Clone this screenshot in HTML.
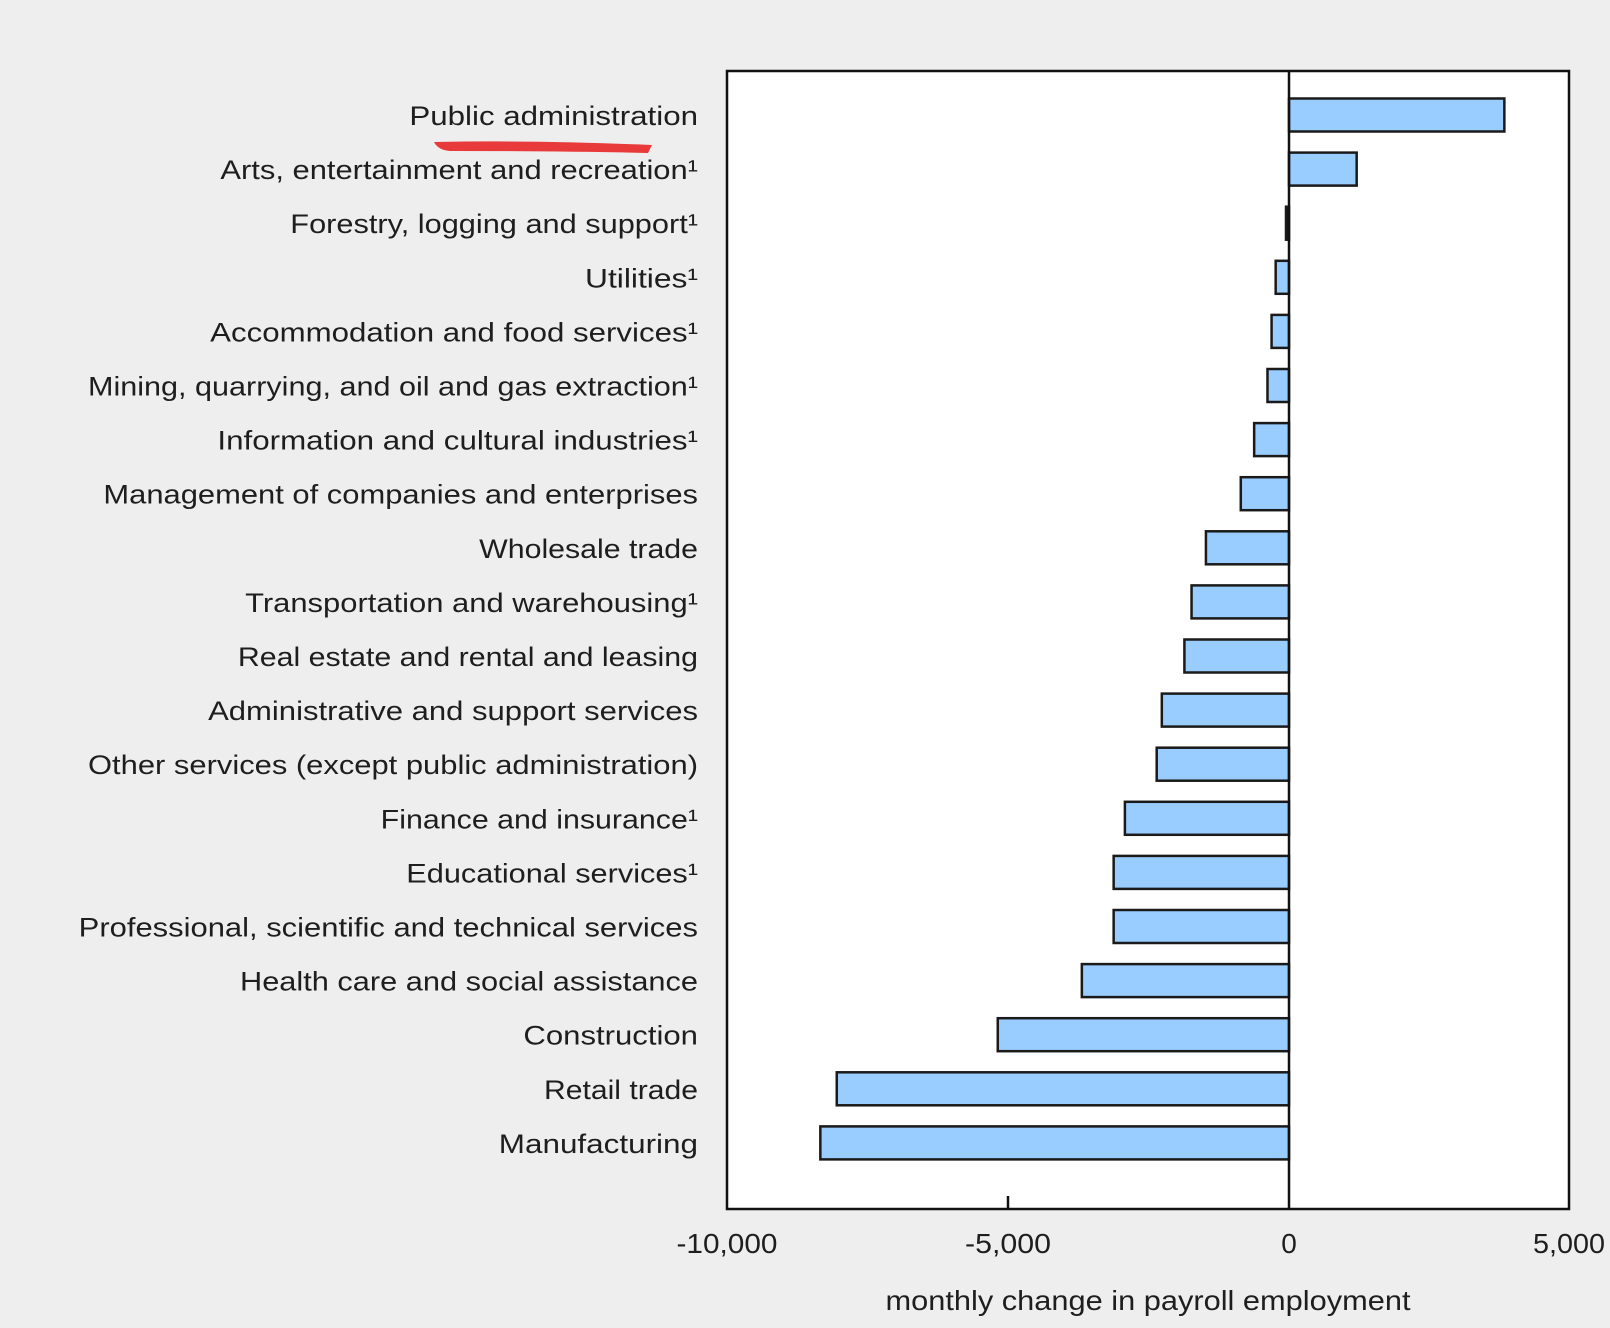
<!DOCTYPE html>
<html><head><meta charset="utf-8"><style>html,body{margin:0;padding:0;background:#eeeeee}svg{display:block}</style></head>
<body>
<svg width="1610" height="1328" viewBox="0 0 1610 1328" xmlns="http://www.w3.org/2000/svg" font-family="Liberation Sans, sans-serif" fill="#1e1e1e">
<rect x="0" y="0" width="1610" height="1328" fill="#eeeeee"/>
<rect x="727" y="71" width="842" height="1138" fill="#fff" stroke="#111" stroke-width="2.5"/>
<g id="bars" fill="#99ccff" stroke="#1a1a1a" stroke-width="2.5"></g>
<line x1="1289" y1="71" x2="1289" y2="1209" stroke="#111" stroke-width="2.5"/>
<line x1="1008" y1="1196" x2="1008" y2="1209" stroke="#111" stroke-width="2.5"/>
<g id="labels" font-size="27" text-anchor="end"></g>
<path d="M434 142 Q540 140 652 145 L648 153 Q560 151 450 151 Q438 150 434 142 Z" fill="#e83a3a"/>
<g font-size="28" text-anchor="middle">
<text x="727" y="1253" textLength="101" lengthAdjust="spacingAndGlyphs">-10,000</text>
<text x="1008" y="1253" textLength="86" lengthAdjust="spacingAndGlyphs">-5,000</text>
<text x="1289" y="1253">0</text>
<text x="1569" y="1253" textLength="72" lengthAdjust="spacingAndGlyphs">5,000</text>
<text x="1148" y="1310" textLength="525" lengthAdjust="spacingAndGlyphs">monthly change in payroll employment</text>
</g>
<script>
var d=[["Public administration",3832,399],["Arts, entertainment and recreation¹",1204,215],["Forestry, logging and support¹",-20,283],["Utilities¹",-237,570],["Accommodation and food services¹",-310,205],["Mining, quarrying, and oil and gas extraction¹",-383,86],["Information and cultural industries¹",-620,212],["Management of companies and enterprises",-858,101],["Wholesale trade",-1478,467],["Transportation and warehousing¹",-1734,239],["Real estate and rental and leasing",-1861,232],["Administrative and support services",-2263,203],["Other services (except public administration)",-2354,86],["Finance and insurance¹",-2920,371],["Educational services¹",-3120,396],["Professional, scientific and technical services",-3120,77],["Health care and social assistance",-3686,234],["Construction",-5182,510],["Retail trade",-8047,530],["Manufacturing",-8339,486]];
var ns="http://www.w3.org/2000/svg",b=document.getElementById("bars"),l=document.getElementById("labels");
d.forEach(function(r,i){var c=115+i*54.1;var x0=1289,x1=1289+r[1]*281/5000;
var e=document.createElementNS(ns,"rect");var L=Math.min(x0,x1),W=Math.abs(x1-x0);
if(W<3){e.setAttribute("fill","#111");W=3;L=1286;}
e.setAttribute("x",L);e.setAttribute("y",c-16.5);e.setAttribute("width",W);e.setAttribute("height",33);b.appendChild(e);
var t=document.createElementNS(ns,"text");t.setAttribute("x",698);t.setAttribute("y",c+10);
t.setAttribute("textLength",((680-r[2])*1.027).toFixed(1));t.setAttribute("lengthAdjust","spacingAndGlyphs");
t.textContent=r[0];l.appendChild(t);});
</script>
</svg>
</body></html>
